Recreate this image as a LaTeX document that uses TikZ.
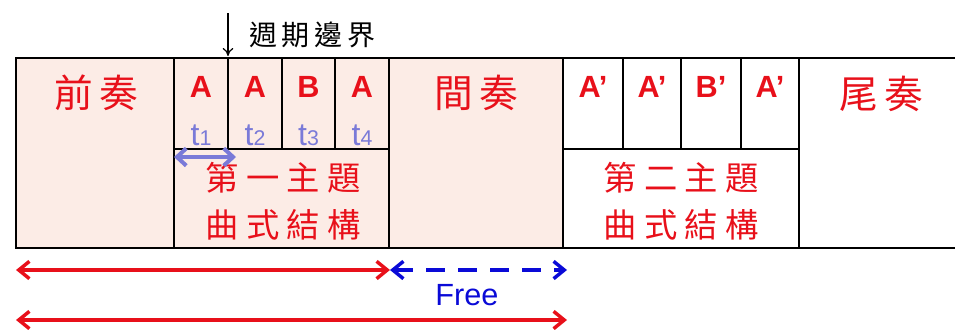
\documentclass[tikz,border=0pt]{standalone}
\usepackage{fontspec}
\setmainfont{Liberation Sans}
\newfontfamily\cjk{Noto Sans CJK TC}
\usetikzlibrary{arrows.meta}
\definecolor{pinkbg}{RGB}{252,236,230}
\definecolor{myred}{RGB}{232,16,26}
\definecolor{lav}{RGB}{122,122,216}
\definecolor{myblue}{RGB}{10,10,215}
\newcommand{\tsub}[1]{t{\fontsize{16}{17}\selectfont #1}}
\tikzset{
  grid/.style={line width=1.1pt, black},
  sec/.style={font=\cjk\fontsize{29}{32}\selectfont, text=myred, inner sep=0pt},
  theme/.style={font=\cjk\fontsize{25}{35}\selectfont, text=myred, inner sep=0pt, align=center},
  lettr/.style={font=\bfseries\fontsize{23}{26}\selectfont, text=myred, inner sep=0pt},
  tlab/.style={font=\fontsize{24}{26}\selectfont, text=lav, inner sep=0pt, anchor=base},
  redarr/.style={line width=3pt, myred, {Straight Barb[length=8pt,width=13pt,line width=2.6pt]}-{Straight Barb[length=8pt,width=13pt,line width=2.6pt]}},
}
\begin{document}
\begin{tikzpicture}[x=0.75pt,y=-0.75pt]
\useasboundingbox (0,0) rectangle (955,329);
\fill[pinkbg] (16,58) rectangle (563,248);
% grid
\draw[grid] (955,58) -- (16,58) -- (16,248) -- (955,248);
\foreach \x in {174,389,563,799} \draw[grid] (\x,58) -- (\x,248);
\foreach \x in {228,282,335,623,681,741} \draw[grid] (\x,58) -- (\x,149);
\draw[grid] (174,149) -- (389,149);
\draw[grid] (563,149) -- (799,149);
% section labels
\node[sec] (pre) at (96,93) {前\,奏};
\node[sec] (mid) at (476,93) {間\,奏};
\node[sec] (end) at (881,94) {尾\,奏};
\node[theme] (th1) at (283,201) {第\hspace{0.22em}一\hspace{0.22em}主\hspace{0.22em}題\\曲\hspace{0.22em}式\hspace{0.22em}結\hspace{0.22em}構};
\node[theme] (th2) at (681,201) {第\hspace{0.22em}二\hspace{0.22em}主\hspace{0.22em}題\\曲\hspace{0.22em}式\hspace{0.22em}結\hspace{0.22em}構};
% letters
\node[lettr] (a1) at (201,87) {A};
\node[lettr] (a2) at (255,87) {A};
\node[lettr] (b1) at (308.5,87) {B};
\node[lettr] (a3) at (362,87) {A};
\node[lettr] (p1) at (593,87) {A’};
\node[lettr] (p2) at (652,87) {A’};
\node[lettr] (p3) at (711,87) {B’};
\node[lettr] (p4) at (770,87) {A’};
\node[tlab] (t1) at (201,145) {\tsub{1}};
\node[tlab] (t2) at (255,145) {\tsub{2}};
\node[tlab] (t3) at (308.5,145) {\tsub{3}};
\node[tlab] (t4) at (362,145) {\tsub{4}};
% period boundary
\coordinate (pbTop) at (228,13);
\coordinate (pbBot) at (228,56);
\draw[line width=0.9pt, -{To[length=6pt,width=8pt]}] (pbTop) -- (pbBot);
\node[font=\cjk\fontsize{21}{24}\selectfont, anchor=west, inner sep=0pt] (pb) at (249,35) {週\,期\,邊\,界};
% lavender arrow
\coordinate (l1) at (174,157);
\coordinate (l2) at (236,157);
\draw[line width=3.6pt, lav, {Straight Barb[length=7pt,width=13pt,line width=3pt]}-{Straight Barb[length=7pt,width=13pt,line width=3pt]}] (l1) -- (l2);
% bottom arrows
\coordinate (r1a) at (16,270);
\coordinate (r1b) at (390,270);
\coordinate (r2a) at (16,320);
\coordinate (r2b) at (567,320);
\coordinate (f1) at (390,270);
\coordinate (f2) at (567,270);
\draw[redarr] (r1a) -- (r1b);
\draw[redarr] (r2a) -- (r2b);
\draw[line width=3pt, myblue, dash pattern=on 14pt off 10pt, {Straight Barb[length=8pt,width=13pt,line width=2.6pt]}-{Straight Barb[length=8pt,width=13pt,line width=2.6pt]}] (f1) -- (f2);
\node[font=\fontsize{23}{25}\selectfont, text=myblue, inner sep=0pt] (free) at (467,295) {Free};
\end{tikzpicture}
\end{document}
